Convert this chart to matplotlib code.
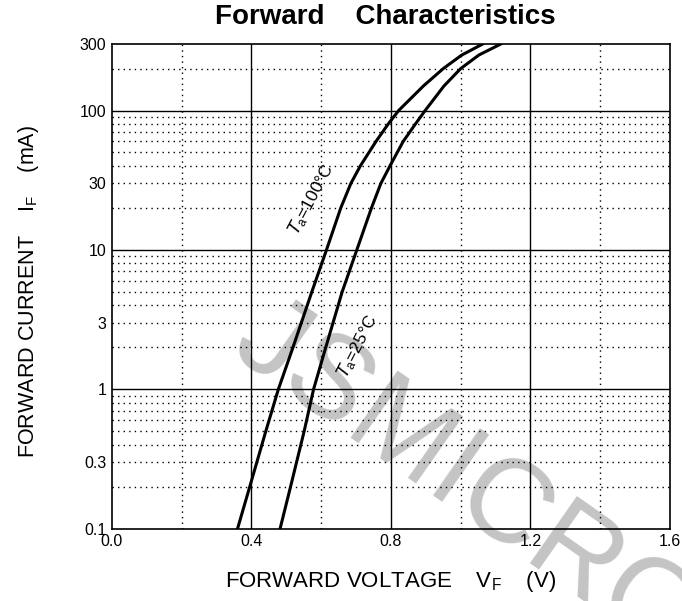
import matplotlib

matplotlib.use("Agg")

import matplotlib.pyplot as plt
import numpy as np

plt.rcParams["font.family"] = ["Liberation Sans", "DejaVu Sans"]
plt.rcParams["mathtext.default"] = "regular"

# forward current (mA) and read-off forward voltages (V)
current_ma = [0.1, 0.2, 0.5, 1, 2, 5, 10, 20, 30, 40, 60, 80, 100, 150, 200, 250, 300]
vf_100c = [0.360, 0.395, 0.441, 0.477, 0.519, 0.573, 0.615, 0.656, 0.685, 0.712, 0.757, 0.792,
           0.822, 0.893, 0.950, 1.003, 1.063]
vf_25c = [0.482, 0.512, 0.551, 0.578, 0.613, 0.660, 0.702, 0.744, 0.771, 0.797, 0.835, 0.870,
          0.898, 0.952, 1.000, 1.052, 1.115]

x_ticks = [0.0, 0.4, 0.8, 1.2, 1.6]
x_minor = [0.2, 0.6, 1.0, 1.4]
y_ticks = [0.1, 0.3, 1, 3, 10, 30, 100, 300]
y_tick_labels = ["0.1", "0.3", "1", "3", "10", "30", "100", "300"]
y_major = [1, 10, 100]


fig = plt.figure(figsize=(6.82, 6.01), dpi=100)
ax = fig.add_axes([0.1642, 0.1203, 0.8182, 0.8065])
ax.set_yscale("log")
ax.set_xlim(0.0, 1.6)
ax.set_ylim(0.1, 300)

dot = (0, (1, 3))
for x in x_ticks[1:-1]:
    ax.axvline(x, color="black", lw=1.0, zorder=1)
for x in x_minor:
    ax.axvline(x, color="black", lw=1.0, ls=dot, zorder=1)
for y in y_major:
    ax.axhline(y, color="black", lw=1.0, zorder=1)
for decade in [0.1, 1, 10, 100]:
    for m in range(2, 10):
        y = m * decade
        if y < 300:
            ax.axhline(y, color="black", lw=1.0, ls=dot, zorder=1)

# watermark
ax.text(1.012, 0.216, "JSMICRO", fontsize=86, color="#c4c4c4", rotation=-35,
        ha="center", va="center", rotation_mode="anchor", clip_on=False, zorder=0.5)

ax.plot(vf_100c, current_ma, color="black", lw=2.2, zorder=3)
ax.plot(vf_25c, current_ma, color="black", lw=2.2, zorder=3)

ax.text(0.572, 23, r"$\mathit{T}_{a}$=100°C", fontsize=12.5, rotation=62,
        ha="center", va="center", zorder=4)
ax.text(0.705, 2.05, r"$\mathit{T}_{a}$=25°C", fontsize=12.5, rotation=63,
        ha="center", va="center", zorder=4)

ax.set_xticks(x_ticks)
ax.set_xticklabels([f"{v:.1f}" for v in x_ticks])
ax.set_yticks(y_ticks)
ax.set_yticklabels(y_tick_labels)
ax.yaxis.set_minor_locator(matplotlib.ticker.NullLocator())
ax.tick_params(length=0, labelsize=11.5, pad=4)
for spine in ax.spines.values():
    spine.set_linewidth(1.2)

fig.text(0.5645, 0.972, "Forward    Characteristics", fontsize=20, fontweight="bold",
         ha="center", va="center")
fig.text(0.572, 0.033, r"FORWARD VOLTAGE    V$_{F}$    (V)", fontsize=16,
         ha="center", va="center")
fig.text(0.042, 0.515, r"FORWARD CURRENT    I$_{F}$    (mA)", fontsize=15.5,
         ha="center", va="center", rotation=90)

fig.savefig("out.png", dpi=100)
plt.close(fig)
